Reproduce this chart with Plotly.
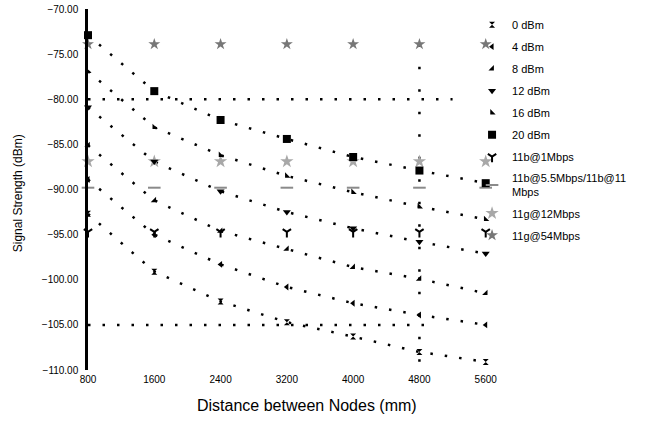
import plotly.graph_objects as go

# ---------------- data ----------------
distance = [800, 1600, 2400, 3200, 4000, 4800, 5600]
x_tick_labels = ["800", "1600", "2400", "3200", "4000", "4800", "5600"]
y_ticks = [-70, -75, -80, -85, -90, -95, -100, -105, -110]

power_labels = ["0 dBm", "4 dBm", "8 dBm", "12 dBm", "16 dBm", "20 dBm"]
rss_0dBm = [-92.7, -99.1, -102.4, -104.7, -106.3, -108.0, -109.1]
rss_4dBm = [-88.9, -95.0, -98.3, -100.8, -102.6, -103.9, -105.0]
rss_8dBm = [-85.1, -91.2, -94.6, -96.6, -98.6, -99.9, -101.5]
rss_12dBm = [-80.9, -86.9, -90.2, -92.5, -94.3, -95.8, -97.1]
rss_16dBm = [-76.9, -83.1, -86.2, -88.5, -90.3, -91.9, -93.3]
rss_20dBm = [-72.9, -79.1, -82.3, -84.4, -86.4, -87.9, -89.3]

sens_labels = ["11b@1Mbps", "11b@5.5Mbps/11b@11<br>Mbps", "11g@12Mbps", "11g@54Mbps"]
sens_values = [-94.7, -89.8, -86.9, -73.9]

# unlabelled dotted reference rows and their extent
ref_row_values = [-80.0, -105.0]
ref_row_ends = [5200, 5000]
vline_x = 4800
vline_y = [-73.9, -110.5]

# ---------------- styles ----------------
font_family = "Liberation Sans, Arial, sans-serif"
curve_symbols = ["hourglass", "triangle-left", "triangle-se", "triangle-down", "triangle-sw", "square"]
curve_sizes = [6, 6, 6, 7, 6, 8]
sens_symbols = ["y-down-open", "line-ew-open", "star", "star"]
sens_colors = ["black", "#8a8a8a", "#a8a8a8", "#777777"]
sens_sizes = [7, 9, 10, 9]
dotted = dict(color="black", width=2.5, dash="2.5px,12px")

fig = go.Figure()

series = [rss_0dBm, rss_4dBm, rss_8dBm, rss_12dBm, rss_16dBm, rss_20dBm]

# dotted curve lines (no legend)
for i, vals in enumerate(series):
    fig.add_trace(go.Scatter(x=distance, y=vals, mode="lines", line=dotted,
                             legendgroup=power_labels[i], showlegend=False,
                             cliponaxis=False, hoverinfo="skip"))

# reference dotted rows
for v, e in zip(ref_row_values, ref_row_ends):
    fig.add_trace(go.Scatter(x=[distance[0], e], y=[v, v], mode="lines", line=dotted,
                             showlegend=False, cliponaxis=False, hoverinfo="skip"))

# vertical dotted line
fig.add_trace(go.Scatter(x=[vline_x, vline_x], y=vline_y, mode="lines",
                         line=dict(color="black", width=2.5, dash="2.5px,20px"),
                         showlegend=False, cliponaxis=False, hoverinfo="skip"))

# sensitivity rows (markers only)
sens_traces = []
for i, v in enumerate(sens_values):
    mk = dict(symbol=sens_symbols[i], size=sens_sizes[i], color=sens_colors[i])
    if sens_symbols[i].endswith("open"):
        mk["line"] = dict(color=sens_colors[i], width=2)
    sens_traces.append(go.Scatter(x=distance, y=[v] * len(distance), mode="markers",
                                  marker=mk, name=sens_labels[i],
                                  legendgroup=sens_labels[i], cliponaxis=False))

# power-level markers
power_traces = []
for i, vals in enumerate(series):
    power_traces.append(go.Scatter(x=distance, y=vals, mode="markers",
                                   marker=dict(symbol=curve_symbols[i], size=curve_sizes[i],
                                               color="black"),
                                   name=power_labels[i], legendgroup=power_labels[i],
                                   cliponaxis=False))

for t in sens_traces:
    fig.add_trace(t)
for t in power_traces:
    fig.add_trace(t)

fig.update_layout(
    width=652, height=423,
    margin=dict(l=88, r=158, t=9, b=53, autoexpand=False),
    plot_bgcolor="white", paper_bgcolor="white",
    font=dict(family=font_family, color="black"),
    legend=dict(xref="container", yref="container",
                x=0.724, xanchor="left", y=0.976, yanchor="top",
                maxheight=400,
                font=dict(size=11, family=font_family), tracegroupgap=3,
                itemwidth=30, bgcolor="rgba(0,0,0,0)",
                traceorder="grouped"),
    xaxis=dict(range=[800, 5700], tickvals=distance, ticktext=x_tick_labels,
               showline=False, showgrid=False, zeroline=False, ticks="",
               automargin=False,
               tickfont=dict(size=10, family=font_family), ticklabelstandoff=2),
    yaxis=dict(range=[-110, -70], tickvals=y_ticks, tickformat=".2f",
               showline=True, linecolor="black", linewidth=2.5,
               showgrid=False, zeroline=False, ticks="", automargin=False,
               ticklabelstandoff=5,
               tickfont=dict(size=10, family=font_family)),
    annotations=[
        dict(text="Distance between Nodes (mm)", xref="paper", yref="paper",
             x=0.539, y=-0.097, xanchor="center", yanchor="middle",
             showarrow=False, font=dict(size=16)),
        dict(text="Signal Strength (dBm)", xref="paper", yref="paper",
             x=-0.172, y=0.49, xanchor="center", yanchor="middle", textangle=-90,
             showarrow=False, font=dict(size=12)),
    ],
)

# legend order: power levels first, then sensitivities
order = power_labels + sens_labels
for tr in fig.data:
    if tr.legendgroup in order:
        tr.legendrank = order.index(tr.legendgroup) + 1

fig.write_html("out.html", config={"displayModeBar": False},
               post_script="document.body.style.margin='0';document.body.style.overflow='hidden';")
